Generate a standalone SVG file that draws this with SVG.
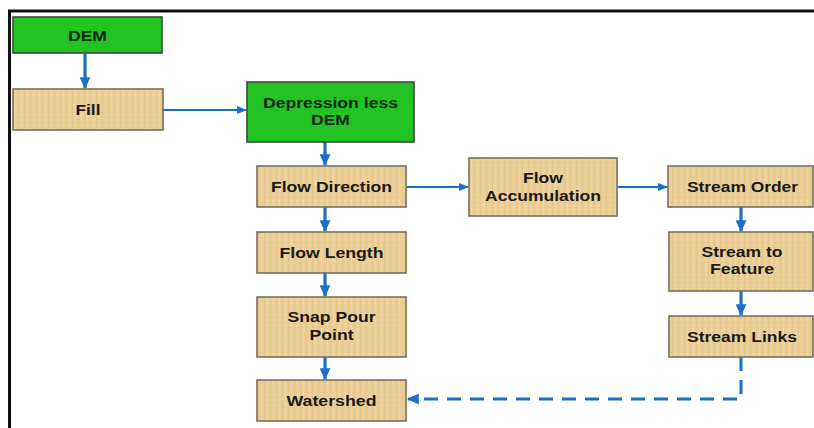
<svg xmlns="http://www.w3.org/2000/svg" width="814" height="428" viewBox="0 0 814 428">
<defs>
<pattern id="papyrus" width="6" height="5" patternUnits="userSpaceOnUse">
<rect width="6" height="5" fill="#ebcf98"/>
<line x1="0.5" y1="0" x2="0.5" y2="5" stroke="#dcb97e" stroke-width="1" opacity="0.45"/>
<line x1="3.5" y1="0" x2="3.5" y2="5" stroke="#f3dcb0" stroke-width="1" opacity="0.6"/>
<line x1="0" y1="2.5" x2="6" y2="2.5" stroke="#e0c28c" stroke-width="0.8" opacity="0.35"/>
</pattern>
<marker id="ah" viewBox="0 0 10 10" refX="9" refY="5" markerWidth="12" markerHeight="12" markerUnits="userSpaceOnUse" orient="auto">
<path d="M0,0.5 L10,5 L0,9.5 Z" fill="#1b6fc6"/>
</marker>
<marker id="ahs" viewBox="0 0 10 10" refX="9" refY="5" markerWidth="10" markerHeight="10" markerUnits="userSpaceOnUse" orient="auto">
<path d="M0,1 L10,5 L0,9 Z" fill="#1b6fc6"/>
</marker>
</defs>
<style>
.tan{fill:url(#papyrus);stroke:#77705f;stroke-width:1.6}
.grn{fill:#22c323;stroke:#3c4a3a;stroke-width:1.6}
.t{font-family:"Liberation Sans",Arial,sans-serif;font-weight:bold;font-size:14px;fill:#1a1a1a;text-anchor:middle}
.g{fill:#0f2a10}
.v{stroke:#1b6fc6;stroke-width:3.2;fill:none;marker-end:url(#ah)}
.h{stroke:#1b6fc6;stroke-width:2.2;fill:none;marker-end:url(#ahs)}
.d{stroke:#1b6fc6;stroke-width:3;fill:none;stroke-dasharray:14 9;marker-end:url(#ah)}
</style>
<rect width="814" height="428" fill="#ffffff"/>
<g id="frame">
<line x1="8" y1="11" x2="814" y2="11" stroke="#111" stroke-width="3"/>
<line x1="9.5" y1="10" x2="9.5" y2="428" stroke="#111" stroke-width="3"/>
</g>
<g id="connectors">
<line class="v" x1="85" y1="54" x2="85" y2="88"/>
<line class="h" x1="163" y1="110" x2="246" y2="110"/>
<line class="v" x1="325" y1="142" x2="325" y2="165"/>
<line class="h" x1="406" y1="187" x2="468" y2="187"/>
<line class="h" x1="618" y1="187" x2="667" y2="187"/>
<line class="v" x1="325" y1="207" x2="325" y2="231"/>
<line class="v" x1="325" y1="273" x2="325" y2="296"/>
<line class="v" x1="325" y1="357" x2="325" y2="379"/>
<line class="v" x1="741" y1="207" x2="741" y2="231"/>
<line class="v" x1="741" y1="291" x2="741" y2="315"/>
<path class="d" d="M741,357 L741,399 L408,399"/>
</g>
<g id="dem">
<rect class="grn" x="13" y="17" width="149" height="36"/>
<text class="t g" x="87.5" y="40.5" textLength="39" lengthAdjust="spacingAndGlyphs">DEM</text>
</g>
<g id="fill">
<rect class="tan" x="13" y="89" width="150" height="41"/>
<text class="t" x="88" y="114.5" textLength="25" lengthAdjust="spacingAndGlyphs">Fill</text>
</g>
<g id="depressionless">
<rect class="grn" x="247" y="82" width="167" height="60"/>
<text class="t g" x="330.5" y="107.5" textLength="135" lengthAdjust="spacingAndGlyphs">Depression less</text>
<text class="t g" x="330.5" y="124.5" textLength="39" lengthAdjust="spacingAndGlyphs">DEM</text>
</g>
<g id="flowdirection">
<rect class="tan" x="257" y="166" width="149" height="41"/>
<text class="t" x="331.5" y="191.5" textLength="121" lengthAdjust="spacingAndGlyphs">Flow Direction</text>
</g>
<g id="flowaccumulation">
<rect class="tan" x="469" y="158" width="148" height="58"/>
<text class="t" x="543" y="183" textLength="40" lengthAdjust="spacingAndGlyphs">Flow</text>
<text class="t" x="543" y="200.5" textLength="116" lengthAdjust="spacingAndGlyphs">Accumulation</text>
</g>
<g id="streamorder">
<rect class="tan" x="668" y="166" width="145" height="41"/>
<text class="t" x="742.5" y="191.5" textLength="111" lengthAdjust="spacingAndGlyphs">Stream Order</text>
</g>
<g id="flowlength">
<rect class="tan" x="257" y="232" width="149" height="41"/>
<text class="t" x="331.5" y="257.5" textLength="104" lengthAdjust="spacingAndGlyphs">Flow Length</text>
</g>
<g id="streamtofeature">
<rect class="tan" x="669" y="232" width="144" height="59"/>
<text class="t" x="742" y="256.5" textLength="81" lengthAdjust="spacingAndGlyphs">Stream to</text>
<text class="t" x="742" y="274" textLength="64" lengthAdjust="spacingAndGlyphs">Feature</text>
</g>
<g id="snappourpoint">
<rect class="tan" x="257" y="297" width="149" height="60"/>
<text class="t" x="331.5" y="322" textLength="88" lengthAdjust="spacingAndGlyphs">Snap Pour</text>
<text class="t" x="331.5" y="339.5" textLength="44" lengthAdjust="spacingAndGlyphs">Point</text>
</g>
<g id="streamlinks">
<rect class="tan" x="669" y="316" width="144" height="41"/>
<text class="t" x="742" y="341.5" textLength="110" lengthAdjust="spacingAndGlyphs">Stream Links</text>
</g>
<g id="watershed">
<rect class="tan" x="257" y="380" width="149" height="41"/>
<text class="t" x="331.5" y="405.5" textLength="90" lengthAdjust="spacingAndGlyphs">Watershed</text>
</g>
</svg>
